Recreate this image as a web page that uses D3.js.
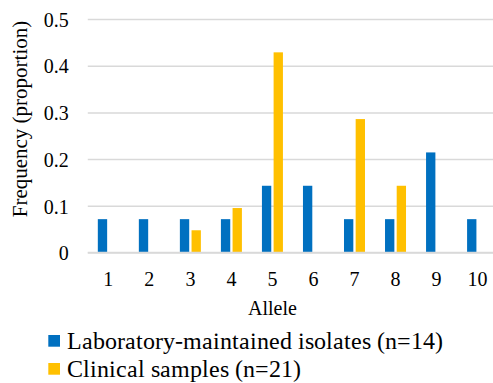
<!DOCTYPE html>
<html><head><meta charset="utf-8">
<script src="https://cdn.jsdelivr.net/npm/d3@7"></script>
<style>
@font-face { font-family: 'ChartSerif'; src: local('Liberation Serif'), local('LiberationSerif'), local('Liberation Serif Regular'), local('LiberationSerif-Regular'); }
html,body{margin:0;padding:0;background:#fff;}
#wrap{font-family:'Liberation Serif';font-size:18px;}
</style></head>
<body>
<div id="wrap"><svg id="fig" width="493" height="383"></svg></div>
<script>
const alleles = ["1","2","3","4","5","6","7","8","9","10"];
const labValues = [0.0714,0.0714,0.0714,0.0714,0.1429,0.1429,0.0714,0.0714,0.2143,0.0714];
const clinValues = [0,0,0.0476,0.0952,0.4286,0,0.2857,0.1429,0,0];
const yTicks = [0,0.1,0.2,0.3,0.4,0.5];
const yTickLabels = ["0","0.1","0.2","0.3","0.4","0.5"];
const seriesNames = ["Laboratory-maintained isolates (n=14)","Clinical samples (n=21)"];
const seriesKeys = ["lab","clin"];
const colors = ["#0070C0","#FFC000"];
const FONT = "Liberation Serif";

const svg = d3.select("#fig").style("display","block");
const x0 = d3.scaleBand().domain(alleles).range([87.8, 498.1]).padding(0);
const x1 = d3.scaleBand().domain(seriesKeys).range([-10.5, 10.5]).paddingInner(0.2).paddingOuter(0);
const y = d3.scaleLinear().domain([0,0.5]).range([252.5, 19]);
const color = d3.scaleOrdinal().domain(seriesKeys).range(colors);

const yAxis = d3.axisLeft(y).tickValues(yTicks).tickSize(-(498.1-87.8)).tickFormat((d,i)=>yTickLabels[i]).tickPadding(19);
const gy = svg.append("g").attr("transform","translate(87.8,0)").call(yAxis)
  .attr("font-family", FONT).attr("font-size", 20);
gy.select(".domain").remove();
gy.selectAll(".tick line").attr("stroke","#d9d9d9").attr("stroke-width",1.5);
gy.selectAll(".tick text").attr("fill","#000").attr("dy","0.36em").attr("font-family", FONT);

const rows = alleles.map((a,i)=>({allele:a, lab:labValues[i], clin:clinValues[i]}));
const groups = svg.append("g").selectAll("g").data(rows).join("g")
  .attr("transform", d=>`translate(${x0(d.allele)+x0.bandwidth()/2},0)`);
groups.selectAll("rect").data(d=>seriesKeys.map(k=>({key:k, value:d[k]})).filter(v=>v.value>0)).join("rect")
  .attr("x", d=>x1(d.key)).attr("width", x1.bandwidth())
  .attr("y", d=>y(d.value)).attr("height", d=>y(0)-y(d.value))
  .attr("fill", d=>color(d.key));

svg.append("line").attr("x1",87.8).attr("x2",498.1).attr("y1",y(0)).attr("y2",y(0))
  .attr("stroke","#d9d9d9").attr("stroke-width",1.5);

const xAxis = d3.axisBottom(x0).tickSize(0).tickPadding(19);
const gx = svg.append("g").attr("transform",`translate(0,${y(0)})`).call(xAxis)
  .attr("font-family", FONT).attr("font-size", 20);
gx.select(".domain").remove();
gx.selectAll(".tick text").attr("fill","#000").attr("dy","0.71em").attr("font-family", FONT);

svg.append("text").attr("x",272.5).attr("y",315).attr("text-anchor","middle")
  .attr("font-family",FONT).attr("font-size",20).text("Allele");
svg.append("text").attr("transform","translate(26.5,119) rotate(-90)").attr("text-anchor","middle")
  .attr("font-family",FONT).attr("font-size",21).text("Frequency (proportion)");

const leg = svg.append("g").selectAll("g").data(seriesKeys).join("g")
  .attr("transform",(d,i)=>`translate(48.3,${335 + i*28})`);
leg.append("rect").attr("width",11.7).attr("height",11.7).attr("fill",d=>color(d));
leg.append("text").attr("x",18.4).attr("y",13.5)
  .attr("font-family","ChartSerif").attr("font-size",23.5).text((d,i)=>seriesNames[i]);
</script>
</body></html>
